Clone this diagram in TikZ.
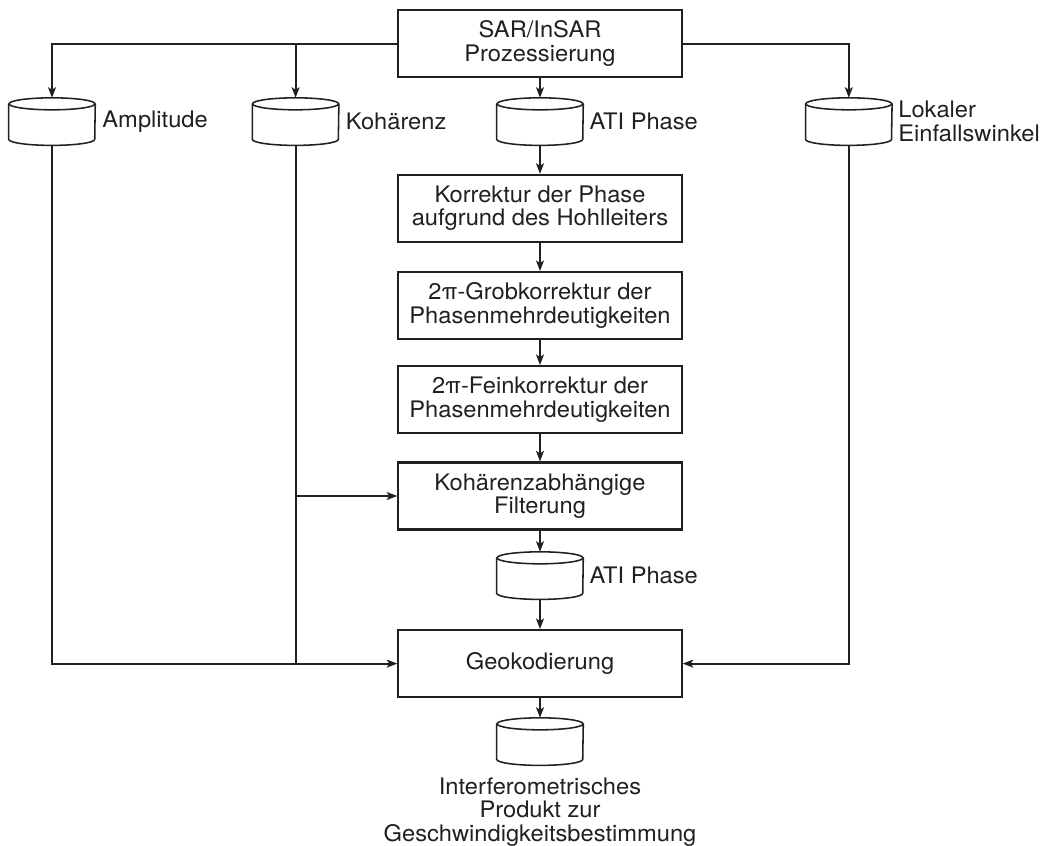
\documentclass[tikz,border=0pt]{standalone}
\usepackage{fontspec}
\setmainfont[FakeStretch=1.04]{TeX Gyre Heros}
\usetikzlibrary{positioning,arrows.meta}
\definecolor{ink}{HTML}{231F20}

\tikzset{
  schritt/.style={draw=ink, line width=1.5pt, minimum width=7.08cm, minimum height=1.675cm,
    align=center, text=ink, font=\fontsize{16.2pt}{16.7pt}\selectfont},
  speicher/.style={inner sep=0pt, minimum width=2.15cm, minimum height=1.175cm},
  zyl/.style={draw=ink, line width=1.1pt},
  beschr/.style={inner sep=0pt, align=left, text=ink, font=\fontsize{16.2pt}{16.7pt}\selectfont},
  fluss/.style={draw=ink, line width=1.4pt}
}

% Datenspeicher als Zylinder: #1 Name, #2 Mittelpunkt
\newcommand{\datenspeicher}[2]{%
  \node[speicher] (#1) at #2 {};
  \draw[zyl] ([yshift=-0.15cm]#1.north west) -- ([yshift=0.15cm]#1.south west)
    arc[start angle=180, end angle=360, x radius=1.075cm, y radius=0.15cm]
    -- ([yshift=-0.15cm]#1.north east);
  \draw[zyl] ([yshift=-0.15cm]#1.north) ellipse[x radius=1.075cm, y radius=0.15cm];
}

\begin{document}
\begin{tikzpicture}[>={Stealth[length=7.5pt,width=5.6pt,inset=1.8pt]}]
		\useasboundingbox (0,0) rectangle (26.125,-21.125);
		% Verarbeitungsschritte
		\node[schritt] (proc) at (13.5,-1.09) {SAR/InSAR\\Prozessierung};
		\node[schritt] (korr) at (13.5,-5.21) {Korrektur der Phase\\aufgrund des Hohlleiters};
		\node[schritt] (grob) at (13.5,-7.64) {2π-Grobkorrektur der\\Phasenmehrdeutigkeiten};
		\node[schritt] (fein) at (13.5,-9.99) {2π-Feinkorrektur der\\Phasenmehrdeutigkeiten};
		\node[schritt] (filt) at (13.5,-12.4) {Kohärenzabhängige\\Filterung};
		\node[schritt] (geo) at (13.5,-16.59) {Geokodierung};
		% Datenspeicher
		\datenspeicher{amp}{(1.3,-3.04)}
		\datenspeicher{koh}{(7.39,-3.04)}
		\datenspeicher{ati}{(13.5,-3.04)}
		\datenspeicher{lok}{(21.22,-3.04)}
		\datenspeicher{ati2}{(13.5,-14.39)}
		\datenspeicher{prod}{(13.5,-18.54)}
		\node[beschr, right=0.17cm of amp] (ampt) {Amplitude};
		\node[beschr, right=0.17cm of koh] (koht) {Kohärenz};
		\node[beschr, right=0.15cm of ati] (atit) {ATI Phase};
		\node[beschr, right=0.15cm of lok] (lokt) {Lokaler\\Einfallswinkel};
		\node[beschr, right=0.15cm of ati2] (ati2t) {ATI Phase};
		\node[beschr, align=center, below=0.3cm of prod] (prodt) {Interferometrisches\\Produkt zur\\Geschwindigkeitsbestimmung};
		% Verbindungen
		\draw[fluss,->] (proc.west) -| (amp.north);
		\draw[fluss,->] (proc.west -| koh.north) -- (koh.north);
		\draw[fluss,->] (proc.east) -| (lok.north);
		\draw[fluss,->] (proc) -- (ati.north);
		\draw[fluss,->] (ati.south) -- (korr);
		\draw[fluss,->] (korr) -- (grob);
		\draw[fluss,->] (grob) -- (fein);
		\draw[fluss,->] (fein) -- (filt);
		\draw[fluss,->] (filt) -- (ati2.north);
		\draw[fluss,->] (ati2.south) -- (geo);
		\draw[fluss,->] (geo) -- (prod.north);
		\draw[fluss,->] (amp.south) |- (geo.west);
		\draw[fluss] (koh.south) -- (koh.south |- geo.west);
		\draw[fluss,->] (koh.south |- filt.west) -- (filt.west);
		\draw[fluss,->] (lok.south) |- (geo.east);
\end{tikzpicture}
\end{document}
